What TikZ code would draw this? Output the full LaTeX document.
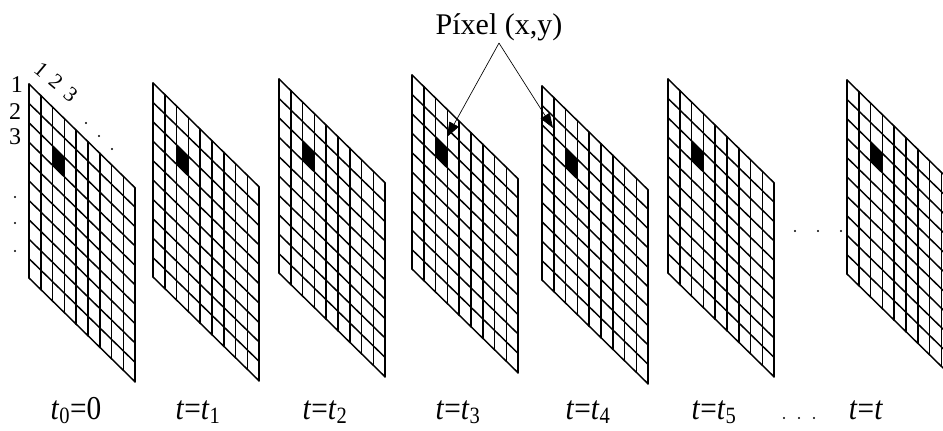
\documentclass[tikz,border=0pt]{standalone}
\usepackage{fontspec}
\setmainfont{Liberation Serif}
\usetikzlibrary{arrows.meta, calc, positioning}

\tikzset{
    gridline/.style={draw=black, line width=1.1pt, line cap=round},
    pointer/.style={-{Triangle[length=11pt, width=8pt]}, line width=0.5pt, black},
    pixlbl/.style={font=\fontsize{22.5}{27}\selectfont, inner sep=1pt, anchor=base},
    numlbl/.style={font=\fontsize{18}{22}\selectfont, inner sep=0pt},
    slantlbl/.style={font=\fontsize{16}{20}\selectfont, inner sep=0pt, rotate=-40},
    tlbl/.style={font=\fontsize{25}{30}\selectfont, inner sep=0pt, anchor=base, xscale=0.88},
    dotmark/.style={fill=black}
}

\newcommand{\pixgrid}[3]{%
  \begin{scope}[shift={(#1,#2)}]
    \begin{scope}[x={(8.85pt,-8.66pt)}, y={(0pt,-14.55pt)}]
      \coordinate (#3) at (0,0);
      \fill (2,2) -- (3,2) -- (3,3) -- (2,3) -- cycle;
      \foreach \c in {0,...,9} \draw[gridline] (\c,0) -- (\c,10);
      \foreach \r in {0,...,10} \draw[gridline] (0,\r) -- (9,\r);
    \end{scope}
  \end{scope}}

\begin{document}
\begin{tikzpicture}[x=0.75pt, y=-0.75pt]
\clip (0,0) rectangle (943,431);
\fill[white] (0,0) rectangle (943,431);

\pixgrid{29}{84}{F0}
\pixgrid{153}{83}{F1}
\pixgrid{279}{79}{F2}
\pixgrid{412}{75}{F3}
\pixgrid{542}{86}{F4}
\pixgrid{668}{79}{F5}
\pixgrid{847}{80}{F6}

\node[numlbl] (r1) at (17,85) {1};
\node[numlbl] (r2) at (15,112) {2};
\node[numlbl] (r3) at (15,137) {3};
\node[slantlbl] (cols) at (56,82) {1\hspace{0.4em}2\hspace{0.4em}3};
\fill[dotmark] (86,123) circle[radius=0.9pt];
\fill[dotmark] (99,136) circle[radius=0.9pt];
\fill[dotmark] (112,149) circle[radius=0.9pt];
\fill[dotmark] (15,197) circle[radius=0.9pt];
\fill[dotmark] (15,223) circle[radius=0.9pt];
\fill[dotmark] (15,251) circle[radius=0.9pt];

\fill[dotmark] (795,231) circle[radius=0.9pt];
\fill[dotmark] (818,231) circle[radius=0.9pt];
\fill[dotmark] (841,231) circle[radius=0.9pt];

\node[pixlbl] (pix) at (499,35) {Píxel (x,y)};
\coordinate (tipA) at (447,137);
\coordinate (tipB) at (553,128);
\draw[pointer] (pix.south) -- (tipA);
\draw[pointer] (pix.south) -- (tipB);

\node[tlbl] (l0) at (76,419) {\textit{t}\textsubscript{0}=0};
\node[tlbl] (l1) at (198,419) {\textit{t}=\textit{t}\textsubscript{1}};
\node[tlbl] (l2) at (325,419) {\textit{t}=\textit{t}\textsubscript{2}};
\node[tlbl] (l3) at (458,419) {\textit{t}=\textit{t}\textsubscript{3}};
\node[tlbl] (l4) at (588,419) {\textit{t}=\textit{t}\textsubscript{4}};
\node[tlbl] (l5) at (714,419) {\textit{t}=\textit{t}\textsubscript{5}};
\fill[dotmark] (784,418) circle[radius=0.9pt];
\fill[dotmark] (799,418) circle[radius=0.9pt];
\fill[dotmark] (814,418) circle[radius=0.9pt];
\node[tlbl] (l6) at (866,419) {\textit{t}=\textit{t}};
\end{tikzpicture}
\end{document}
